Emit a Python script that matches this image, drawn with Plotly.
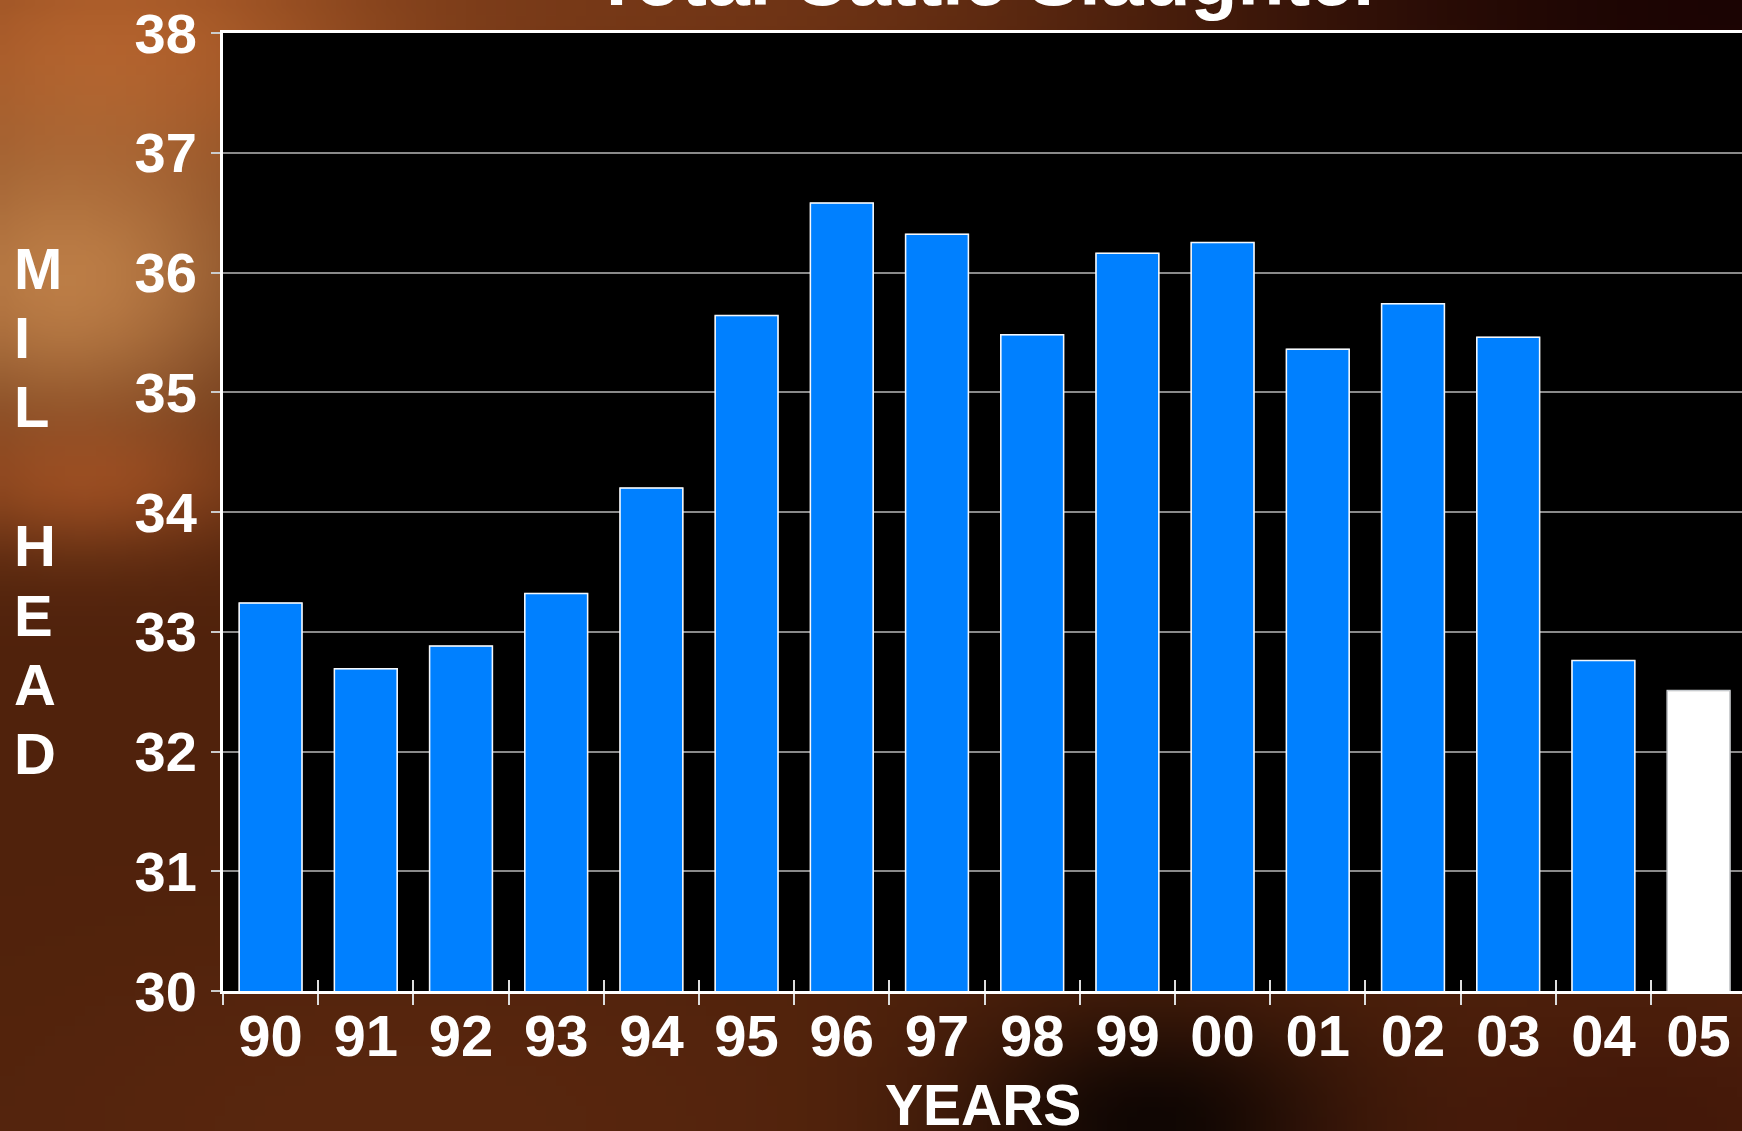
import base64, struct, zlib
import numpy as np
import plotly.graph_objects as go

# ---- data ----
years = ["90", "91", "92", "93", "94", "95", "96", "97", "98", "99",
         "00", "01", "02", "03", "04", "05"]
slaughter = [33.24, 32.69, 32.88, 33.32, 34.20, 35.64, 36.58, 36.32,
             35.48, 36.16, 36.25, 35.36, 35.74, 35.46, 32.76, 32.51]
y_ticks = [30, 31, 32, 33, 34, 35, 36, 37, 38]
y_title_letters = ["M", "I", "L", "", "H", "E", "A", "D"]
title_text = "Total Cattle Slaughter"
x_title_text = "YEARS"

W, H = 1742, 1131
L, R, T, B = 223, 0, 33, 140
PW, PH = W - L - R, H - T - B


def px_x(x):
    return (x - L) / PW


def px_y(y):
    return (H - B - y) / PH


# ---- background image (smooth brown/orange backdrop) ----
def make_bg(w=174, h=113):
    xs = np.linspace(0, W, w)[None, :]
    ys = np.linspace(0, H, h)[:, None]
    img = np.zeros((h, w, 3)) + np.array([80, 34, 12], float)

    def blob(cx, cy, sx, sy, col, a):
        nonlocal img
        wgt = a * np.exp(-(((xs - cx) / sx) ** 2 + ((ys - cy) / sy) ** 2))
        img = img * (1 - wgt[..., None]) + np.array(col, float) * wgt[..., None]

    blob(700, 0, 500, 120, (125, 60, 25), 0.8)
    blob(100, 40, 320, 170, (185, 100, 45), 0.9)
    blob(60, 280, 230, 170, (205, 140, 80), 0.85)
    blob(80, 480, 170, 70, (185, 92, 40), 0.6)
    blob(1742, 0, 550, 260, (25, 3, 3), 0.95)
    blob(1150, 1131, 200, 120, (5, 2, 2), 0.9)
    blob(1650, 1131, 250, 120, (60, 18, 8), 0.6)
    blob(400, 1131, 450, 200, (95, 42, 16), 0.6)
    return np.clip(img, 0, 255).astype(np.uint8)


def png_uri(arr):
    h, w, _ = arr.shape
    raw = b"".join(b"\x00" + arr[i].tobytes() for i in range(h))

    def chunk(tag, data):
        return (struct.pack(">I", len(data)) + tag + data +
                struct.pack(">I", zlib.crc32(tag + data) & 0xFFFFFFFF))

    png = (b"\x89PNG\r\n\x1a\n" +
           chunk(b"IHDR", struct.pack(">IIBBBBB", w, h, 8, 2, 0, 0, 0)) +
           chunk(b"IDAT", zlib.compress(raw, 9)) + chunk(b"IEND", b""))
    return "data:image/png;base64," + base64.b64encode(png).decode()


FONT = "Liberation Sans, Arial, sans-serif"
BLUE = "#0080ff"
n = len(years)
colors = [BLUE] * (n - 1) + ["white"]
line_cols = ["white"] * (n - 1) + ["#b0b0b0"]

fig = go.Figure()
fig.add_trace(go.Bar(
    x=years, y=slaughter,
    marker=dict(color=colors, line=dict(color=line_cols, width=1.5)),
    width=0.66, hoverinfo="x+y", showlegend=False,
))
# transparent twin trace used to draw the inside half of the boundary ticks
fig.add_trace(go.Bar(
    x=years, y=slaughter, xaxis="x2",
    marker=dict(color="rgba(0,0,0,0)"), hoverinfo="skip", showlegend=False,
))

xr = [-0.5, -0.5 + PW / 95.2]
fig.update_layout(
    width=W, height=H, autosize=False,
    margin=dict(l=L, r=R, t=T, b=B, pad=0),
    paper_bgcolor="#4e200c", plot_bgcolor="black",
    bargap=0.34,
    xaxis=dict(
        type="category", range=xr, tickson="boundaries",
        ticks="outside", ticklen=11, tickwidth=1.5, tickcolor="#dddddd",
        showline=True, linecolor="white", linewidth=3, mirror=True,
        showgrid=False,
        tickfont=dict(family=FONT, size=58, color="white", weight="bold"),
        ticklabelstandoff=-8,
    ),
    xaxis2=dict(
        type="category", range=xr, overlaying="x", side="bottom",
        tickson="boundaries", ticks="inside", ticklen=11, tickwidth=1.5,
        tickcolor="#dddddd", showticklabels=False, showgrid=False,
        showline=False,
    ),
    yaxis=dict(
        range=[30, 38], tickvals=y_ticks,
        ticks="outside", ticklen=9, tickwidth=1.5, tickcolor="#cccccc",
        showline=True, linecolor="white", linewidth=3,
        showgrid=True, gridcolor="#8a8a8a", gridwidth=1.5,
        zeroline=False,
        tickfont=dict(family=FONT, size=56, color="white", weight="bold"),
        ticklabelstandoff=3,
    ),
    images=[dict(
        source=png_uri(make_bg()), xref="paper", yref="paper",
        x=px_x(0), y=px_y(0), sizex=W / PW, sizey=H / PH,
        xanchor="left", yanchor="top", sizing="stretch", layer="below",
    )],
    shapes=[dict(
        type="rect", xref="x domain", yref="y domain", x0=0, x1=1, y0=0, y1=1,
        fillcolor="black", line=dict(width=0), layer="below",
    )],
)

ann = []
ann.append(dict(text=title_text, xref="paper", yref="paper",
                x=px_x(988), y=px_y(3.5 - 0.33 * 77), xanchor="center",
                yanchor="middle", showarrow=False,
                font=dict(family=FONT, size=77, color="white", weight="bold")))
ann.append(dict(text=x_title_text, xref="paper", yref="paper",
                x=px_x(983), y=px_y(1124 - 0.33 * 57), xanchor="center",
                yanchor="middle", showarrow=False,
                font=dict(family=FONT, size=57, color="white", weight="bold")))
for i, ch in enumerate(y_title_letters):
    if not ch:
        continue
    ann.append(dict(text=ch, xref="paper", yref="paper",
                    x=px_x(12), y=px_y(268 + 69.4 * i), xanchor="left",
                    yanchor="middle", showarrow=False,
                    font=dict(family=FONT, size=58, color="white",
                              weight="bold")))
fig.update_layout(annotations=ann)

fig.write_html(
    "out.html",
    config={"displayModeBar": False},
    post_script="document.body.style.margin='0';"
                "document.body.style.overflow='hidden';",
)
